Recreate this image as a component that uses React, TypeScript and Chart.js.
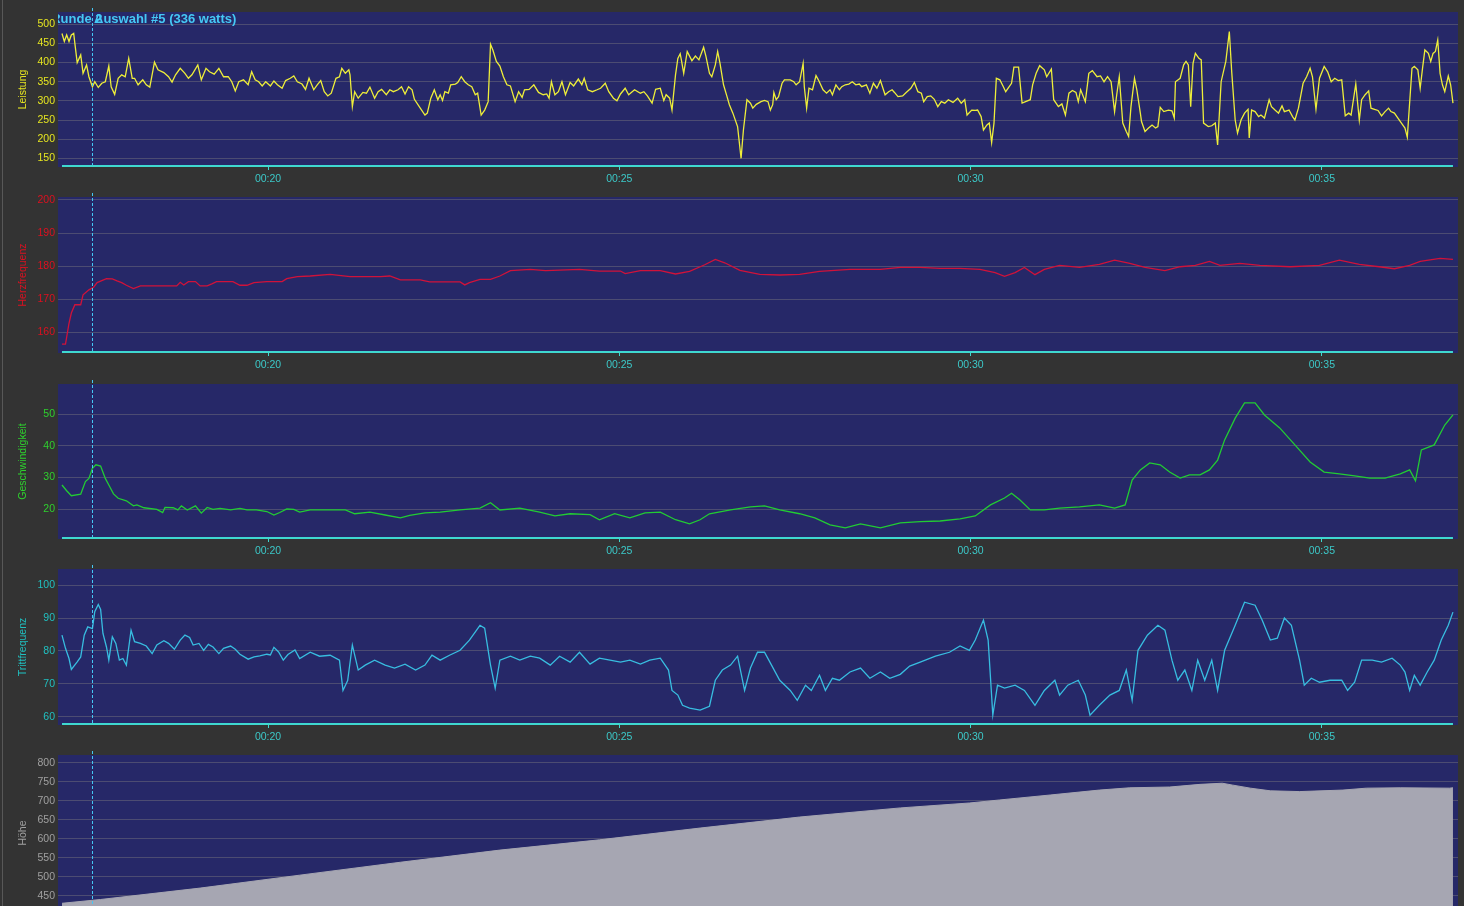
import React, { useEffect, useRef } from "react";
import Chart from "chart.js/auto";

// ---------- data (time in seconds of the ride) ----------
const timeTicks = [1200, 1500, 1800, 2100];
const timeTickLabels = ["00:20", "00:25", "00:30", "00:35"];
const lapTime = 1050;
const lapLabel = "Runde 2";
const selectionLabel = "Auswahl #5 (336 watts)";

const powerTicks = [150, 200, 250, 300, 350, 400, 450, 500];
const hrTicks = [160, 170, 180, 190, 200];
const speedTicks = [20, 30, 40, 50];
const cadenceTicks = [60, 70, 80, 90, 100];
const altTicks = [450, 500, 550, 600, 650, 700, 750, 800];

const powerTime = [1024,1026,1028,1030,1032,1034,1035,1037,1040,1042,1045,1047,1050,1052,1055,1058,1061,1064,1066,1069,1072,1075,1078,1081,1084,1086,1089,1093,1096,1099,1103,1106,1111,1115,1118,1121,1125,1129,1132,1135,1140,1143,1147,1150,1154,1158,1162,1166,1169,1172,1175,1179,1183,1186,1189,1192,1195,1198,1202,1205,1208,1212,1215,1219,1222,1225,1229,1232,1235,1239,1242,1245,1248,1251,1254,1258,1261,1263,1266,1269,1270,1272,1274,1277,1281,1284,1287,1291,1294,1297,1301,1304,1307,1311,1314,1317,1320,1323,1325,1330,1334,1336,1339,1342,1345,1347,1349,1351,1354,1356,1360,1362,1365,1368,1371,1374,1377,1379,1382,1385,1388,1390,1392,1395,1398,1401,1404,1407,1411,1414,1417,1419,1423,1427,1431,1435,1438,1440,1442,1445,1448,1451,1454,1458,1461,1465,1468,1470,1473,1477,1481,1484,1488,1491,1495,1498,1501,1505,1508,1513,1518,1521,1524,1528,1531,1535,1538,1540,1543,1545,1548,1550,1552,1553,1555,1558,1562,1565,1568,1572,1574,1577,1579,1582,1584,1586,1589,1592,1594,1597,1601,1604,1606,1609,1612,1614,1617,1621,1624,1627,1629,1631,1632,1634,1636,1639,1641,1646,1649,1651,1654,1657,1658,1660,1662,1665,1668,1670,1674,1677,1680,1682,1685,1688,1690,1693,1696,1699,1702,1705,1707,1711,1714,1717,1720,1723,1727,1730,1733,1735,1738,1742,1745,1749,1752,1755,1758,1760,1763,1766,1769,1772,1775,1778,1781,1785,1789,1792,1795,1797,1801,1804,1806,1809,1811,1814,1816,1818,1820,1822,1825,1828,1830,1833,1835,1837,1841,1844,1847,1851,1853,1856,1859,1863,1865,1869,1871,1875,1878,1881,1884,1887,1890,1892,1894,1898,1901,1904,1908,1911,1914,1917,1920,1923,1925,1927,1930,1933,1935,1937,1940,1942,1945,1946,1949,1952,1955,1958,1960,1962,1965,1969,1972,1974,1975,1979,1982,1984,1986,1988,1990,1992,1995,1997,1999,2003,2006,2009,2011,2014,2018,2021,2023,2026,2028,2031,2034,2037,2038,2040,2043,2046,2048,2051,2055,2057,2060,2063,2066,2068,2072,2075,2077,2080,2084,2087,2090,2092,2095,2098,2102,2105,2108,2111,2114,2117,2120,2123,2125,2129,2132,2134,2137,2140,2142,2145,2148,2151,2154,2157,2159,2162,2165,2168,2171,2173,2174,2177,2179,2182,2184,2186,2188,2191,2193,2195,2197,2199,2201,2203,2205,2208,2210,2212];
const powerWatts = [476,455,472,455,472,476,450,400,420,372,394,363,337,350,335,346,350,391,337,317,359,368,363,411,359,359,342,355,342,336,401,381,374,363,349,368,385,372,359,368,394,355,385,376,370,385,363,363,350,326,350,355,342,376,355,350,339,350,339,352,342,333,353,359,365,350,344,330,359,329,342,353,324,313,320,359,363,385,372,381,368,285,324,307,322,320,336,307,324,330,316,329,324,329,337,318,337,329,304,281,263,268,307,329,303,316,301,324,320,342,344,348,363,350,342,337,316,320,263,276,298,448,433,403,391,363,342,339,298,324,309,329,330,342,322,316,318,307,350,316,324,350,316,348,339,357,342,359,329,324,329,333,346,324,307,300,318,333,316,329,320,324,313,294,330,333,301,316,307,276,368,411,423,407,372,429,405,417,407,440,416,372,363,394,429,398,342,311,290,268,233,150,224,303,294,281,291,298,301,298,276,290,322,303,311,346,355,355,350,342,350,398,337,281,333,329,366,355,329,320,329,316,342,329,337,342,344,350,342,344,337,342,320,346,333,353,316,324,329,322,311,313,322,333,348,324,320,298,311,313,304,285,298,294,303,296,307,294,303,263,276,275,276,259,224,237,242,191,242,359,355,337,324,337,346,388,388,294,298,303,342,372,392,381,363,383,303,285,292,263,320,327,322,298,329,298,372,379,363,365,350,363,350,272,320,363,242,220,207,285,359,329,268,246,220,229,237,229,233,283,272,276,274,255,350,359,394,403,394,285,398,424,411,407,242,233,235,242,185,350,403,481,377,250,216,250,268,278,203,276,272,259,263,255,303,285,276,268,287,272,276,259,250,281,346,363,385,363,278,359,390,376,350,359,353,355,261,268,263,344,250,303,316,326,281,278,275,261,272,281,272,268,255,242,229,205,250,385,390,381,333,385,433,424,403,424,429,459,372,342,324,365,342,294];

const hrTime = [1024,1027,1030,1032,1035,1040,1042,1047,1051,1054,1058,1062,1067,1071,1075,1079,1085,1091,1099,1114,1122,1125,1128,1132,1138,1142,1148,1152,1156,1170,1176,1182,1188,1199,1212,1216,1225,1236,1253,1270,1296,1304,1313,1330,1338,1364,1368,1372,1381,1390,1398,1407,1424,1437,1449,1466,1483,1501,1505,1518,1535,1548,1560,1573,1582,1590,1603,1620,1637,1654,1671,1697,1723,1740,1757,1774,1791,1808,1821,1829,1838,1846,1855,1863,1876,1893,1910,1923,1936,1949,1966,1979,1992,2004,2013,2030,2047,2073,2098,2115,2132,2149,2162,2175,2184,2201,2212];
const hrBpm = [156.4,156.4,162.7,165.8,168.3,168.3,171.3,172.8,173.6,175,175.6,176.2,176.1,175.5,175,174.2,173.2,174,174,174,174,175.1,174.3,175.3,175.3,174,174,174.6,175.3,175.3,174.2,174.2,175,175.3,175.3,176.2,176.8,177,177.5,176.8,176.8,177,175.8,175.8,175.2,175.2,174.3,175,176,176,177,178.6,179,178.6,178.8,179,178.5,178.5,177.7,178.6,178.6,177.6,178.4,180.4,182,181,178.7,177.5,177.3,177.5,178.4,179,179,179.6,179.6,179.3,179.3,179,178,176.9,178,179.6,177.4,179,180.2,179.6,180.5,181.8,180.8,179.6,178.6,179.8,180.2,181.4,180.2,180.8,180.2,179.8,180.2,181.8,180.5,179.8,179.2,180.2,181.4,182.3,182];

const speedTime = [1024,1028,1032,1040,1044,1047,1050,1053,1057,1061,1064,1068,1072,1079,1085,1088,1094,1105,1110,1112,1119,1123,1126,1131,1138,1143,1148,1153,1159,1168,1176,1182,1190,1199,1205,1210,1216,1222,1227,1236,1253,1266,1274,1287,1300,1313,1321,1334,1347,1364,1381,1390,1398,1415,1432,1445,1458,1475,1483,1496,1509,1522,1535,1548,1560,1569,1577,1595,1612,1624,1637,1654,1667,1680,1693,1706,1723,1740,1757,1774,1791,1804,1817,1829,1835,1842,1851,1863,1876,1893,1910,1923,1932,1938,1945,1953,1962,1970,1979,1987,1996,2004,2011,2017,2026,2034,2043,2051,2064,2077,2090,2102,2115,2128,2141,2154,2167,2175,2180,2185,2196,2205,2212];
const speedKmh = [27.6,25.8,24.2,24.7,28.7,29.7,32.9,34,33.6,29.7,27.6,24.8,23.4,22.6,21,21.3,20.4,19.9,18.9,20.5,20.4,19.7,21,19.7,21,18.7,20.5,19.9,20.2,19.7,20.2,19.7,19.7,19.2,18.1,18.9,20,19.9,19,19.7,19.7,19.7,18.5,19,18.1,17.2,18,18.8,19,19.7,20.3,22,19.7,20.3,19,17.8,18.5,18.2,16.6,18.5,17.2,18.8,19,16.6,15.3,16.6,18.5,19.7,20.7,21,19.7,18.5,17.2,15,14,15.3,14,15.6,16,16.2,16.9,17.8,21.3,23.5,25,22.9,19.7,19.7,20.3,20.7,21.3,20.3,21.3,29.2,32.4,34.6,34,31.7,29.8,30.8,30.8,32.4,35.5,41.9,48.8,53.6,53.6,49.8,45.7,40.3,34.9,31.7,31.1,30.5,29.8,29.8,31.1,32.4,28.9,38.7,40.3,46.6,49.8];

const cadenceTime = [1024,1027,1030,1032,1037,1040,1043,1046,1050,1052,1055,1057,1059,1062,1064,1067,1070,1073,1076,1079,1083,1086,1091,1096,1101,1105,1111,1115,1120,1125,1129,1133,1136,1141,1145,1149,1153,1158,1162,1168,1172,1176,1183,1188,1193,1199,1202,1205,1209,1213,1217,1223,1227,1236,1244,1253,1261,1264,1268,1272,1277,1283,1291,1300,1308,1317,1326,1334,1340,1347,1355,1364,1372,1381,1385,1390,1394,1398,1407,1415,1424,1432,1441,1449,1458,1466,1475,1483,1492,1501,1509,1518,1526,1535,1542,1545,1550,1554,1560,1569,1577,1582,1588,1595,1601,1607,1612,1618,1624,1630,1637,1646,1652,1659,1664,1671,1676,1682,1688,1697,1706,1714,1723,1731,1740,1748,1757,1770,1782,1791,1799,1804,1811,1815,1819,1823,1829,1838,1846,1855,1863,1872,1876,1883,1892,1898,1902,1910,1919,1927,1933,1938,1943,1951,1960,1966,1972,1977,1983,1989,1994,2000,2006,2011,2017,2026,2034,2043,2049,2056,2062,2068,2074,2081,2085,2091,2098,2107,2117,2122,2128,2134,2143,2151,2160,2167,2171,2175,2179,2184,2190,2196,2202,2208,2212];
const cadenceRpm = [84.8,80.8,77.7,74.4,76.7,78.2,84.8,87.3,86.8,91.9,94.1,92.6,85.3,81.2,77.2,84.3,82.3,77.2,77.7,75.7,86.3,82.8,82.3,81.5,79.2,81.8,83.1,82.3,80.5,83.3,84.8,84.1,81.8,82.3,80.2,82,81.2,79.2,80.8,81.5,80.5,79,77.5,78.2,78.5,79,78.8,81.1,79.7,77.2,78.9,80.3,77.7,79.6,78.4,78.7,77.2,68,71,81.8,74.2,75.7,77.2,75.7,74.8,76,74.2,75.7,78.7,77.2,78.7,80.2,83.3,87.8,86.9,75.7,68.7,77.2,78.4,77.2,78.4,77.8,75.7,78.4,76.6,79.6,76,77.8,77.2,76.6,77.2,76,77.2,77.8,74.2,68,66.6,63.5,62.6,62,63.2,71.1,74.2,75.7,78.4,68,74.8,79.6,79.6,75.7,71.1,68,65,69.6,68,72.6,68,71.7,71.1,73.6,74.8,71.7,73.6,71.7,72.9,75.4,76.6,78.4,79.6,81.5,80.2,83.3,89.4,83.3,60.5,69.6,68.7,69.6,68,63.5,68,71.1,66.6,69.6,71.1,66.6,60.5,63.5,66.6,68,74.2,65,80.2,84.8,87.8,86.3,77.2,71.1,74.2,68,77.2,71.1,77.2,68,80.2,87.8,94.8,93.9,89.4,83.3,83.9,90,87.8,77.2,69.6,71.7,70.5,71.1,71.1,68,70.5,77.2,77.2,76.6,77.8,75.7,73.6,68,72.6,69.6,73.6,77.2,83.3,87.8,91.8];

const altTime = [1024,1057,1142,1227,1313,1398,1483,1569,1654,1740,1799,1825,1868,1910,1936,1970,1996,2015,2024,2039,2056,2081,2118,2138,2167,2209,2212];
const altMeters = [430,440,470,504,538,570,597,628,657,681,694,702,715,728,734,736,743,746,741,733,726,724,728,733,734,733,734];

// ---------- styles ----------
const PAGE_BG = "#333333";
const PLOT_BG = "#262868";
const GRID = "#4c4c72";
const AXIS = "#3fd8d0";
const AXIS_TEXT = "#3cc8c8";
const LAP = "#45c8f5";
const FONT = "'Liberation Sans', Arial, sans-serif";

const zip = (t: number[], v: number[]) => t.map((x, i) => ({ x, y: v[i] }));

type Panel = {
  title: string; titleColor: string; lineColor: string; fillColor?: string;
  top: number; area: number; yMin: number; yMax: number; ticks: number[];
  data: { x: number; y: number }[]; showTitle?: boolean; gridOnTop?: boolean;
};

const panels: Panel[] = [
  { title: "Leistung", titleColor: "#e6e620", lineColor: "#eeee3a", top: 0, area: 155, yMin: 127.3, yMax: 532.1, ticks: powerTicks, data: zip(powerTime, powerWatts), showTitle: true },
  { title: "Herzfrequenz", titleColor: "#dd1020", lineColor: "#d0123a", top: 185, area: 156, yMin: 153.7, yMax: 200.9, ticks: hrTicks, data: zip(hrTime, hrBpm) },
  { title: "Geschwindigkeit", titleColor: "#2ed02e", lineColor: "#22cc33", top: 372, area: 155, yMin: 10.5, yMax: 59.6, ticks: speedTicks, data: zip(speedTime, speedKmh) },
  { title: "Trittfrequenz", titleColor: "#20c0c0", lineColor: "#38bde0", top: 557, area: 156, yMin: 57.5, yMax: 104.9, ticks: cadenceTicks, data: zip(cadenceTime, cadenceRpm) },
  { title: "Höhe", titleColor: "#a0a0a0", lineColor: "#a6a6b2", fillColor: "#a6a6b2", top: 743, area: 156, yMin: 409.7, yMax: 820.3, ticks: altTicks, data: zip(altTime, altMeters), gridOnTop: true },
];

const PAD_TOP = 12;
const XAXIS_H = 30;
const tStart = powerTime[0];
const tEnd = powerTime[powerTime.length - 1];

function PanelChart({ p, idx }: { p: Panel; idx: number }) {
  const ref = useRef<HTMLCanvasElement>(null);
  const h = PAD_TOP + p.area + XAXIS_H;
  useEffect(() => {
    if (!ref.current) return;
    const deco = {
      id: "deco" + idx,
      beforeDraw(chart: any) {
        const { ctx, chartArea: a } = chart;
        ctx.save();
        ctx.fillStyle = PLOT_BG;
        ctx.fillRect(a.left, a.top, a.right - a.left, a.bottom - a.top);
        ctx.restore();
      },
      afterDraw(chart: any) {
        const { ctx, chartArea: a } = chart;
        const xs = chart.scales.x;
        ctx.save();
        ctx.strokeStyle = AXIS;
        ctx.lineWidth = 2;
        ctx.beginPath();
        ctx.moveTo(xs.getPixelForValue(tStart), a.bottom - 1);
        ctx.lineTo(xs.getPixelForValue(tEnd), a.bottom - 1);
        ctx.stroke();
        const lx = Math.round(xs.getPixelForValue(lapTime)) + 0.5;
        ctx.strokeStyle = LAP;
        ctx.lineWidth = 1;
        ctx.setLineDash([3, 2]);
        ctx.beginPath();
        ctx.moveTo(lx, a.top - 4);
        ctx.lineTo(lx, a.bottom - 2);
        ctx.stroke();
        ctx.setLineDash([]);
        if (p.showTitle) {
          ctx.beginPath();
          ctx.rect(a.left, a.top - 4, a.right - a.left, a.bottom - a.top + 4);
          ctx.clip();
          ctx.font = "bold 13px " + FONT;
          ctx.fillStyle = LAP;
          ctx.textBaseline = "alphabetic";
          ctx.textAlign = "left";
          ctx.fillText(selectionLabel, lx + 1.5, a.top + 11);
          ctx.textAlign = "right";
          ctx.fillText(lapLabel, lx + 10, a.top + 11);
        }
        ctx.restore();
      },
    };
    const chart = new Chart(ref.current, {
      type: "line",
      data: {
        datasets: [
          {
            data: p.data,
            borderColor: p.lineColor,
            backgroundColor: p.fillColor || p.lineColor,
            borderWidth: p.fillColor ? 1 : 1.3,
            pointRadius: 0,
            tension: 0,
            fill: p.fillColor ? "start" : false,
          },
        ],
      },
      options: {
        animation: false,
        responsive: false,
        maintainAspectRatio: false,
        events: [],
        layout: { padding: { top: PAD_TOP, right: 6, left: 0, bottom: 0 } },
        plugins: { legend: { display: false }, tooltip: { enabled: false } },
        scales: {
          x: {
            type: "linear",
            min: 1020.6,
            max: 2216.3,
            afterBuildTicks: (s: any) => { s.ticks = timeTicks.map((v) => ({ value: v })); },
            afterFit: (s: any) => { s.height = XAXIS_H; },
            ticks: {
              color: AXIS_TEXT,
              font: { family: FONT, size: 10.5 },
              padding: 3,
              maxRotation: 0,
              autoSkip: false,
              callback: (v: any) => timeTickLabels[timeTicks.indexOf(Number(v))] ?? "",
            },
            grid: { display: true, drawOnChartArea: false, drawTicks: true, tickLength: 3, tickColor: AXIS },
            border: { display: false },
          },
          y: {
            type: "linear",
            min: p.yMin,
            max: p.yMax,
            z: p.gridOnTop ? 1 : 0,
            afterBuildTicks: (s: any) => { s.ticks = p.ticks.map((v) => ({ value: v })); },
            afterFit: (s: any) => { s.width = 58; },
            ticks: { color: p.titleColor, font: { family: FONT, size: 10.5 }, padding: 3, autoSkip: false },
            grid: { color: GRID, lineWidth: 1, drawTicks: false },
            border: { display: false },
            title: { display: true, text: p.title, color: p.titleColor, font: { family: FONT, size: 10.5 }, padding: { top: 17, bottom: 0 } },
          },
        },
      },
      plugins: [deco],
    } as any);
    return () => chart.destroy();
  }, []);
  return (
    <canvas
      ref={ref}
      width={1464}
      height={h}
      style={{ position: "absolute", left: 0, top: p.top, width: 1464, height: h }}
    />
  );
}

export default function App() {
  return (
    <div style={{ position: "fixed", left: 0, top: 0, width: 1464, height: 906, overflow: "hidden", background: PAGE_BG }}>
      <div style={{ position: "absolute", left: 2, top: 0, width: 1, height: 906, background: "#585858" }} />
      {panels.map((p, i) => (
        <PanelChart key={i} p={p} idx={i} />
      ))}
    </div>
  );
}
